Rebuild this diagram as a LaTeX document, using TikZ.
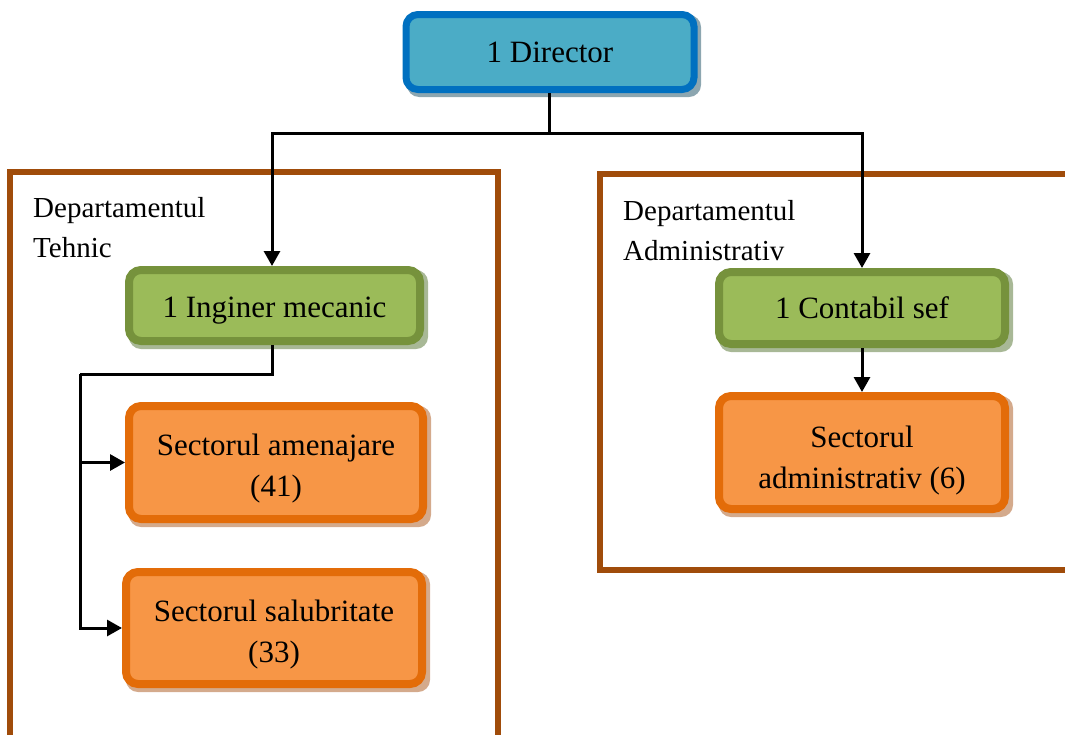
\documentclass[tikz,border=0pt]{standalone}
\usepackage{fontspec}
\setmainfont{Liberation Serif}
\usetikzlibrary{arrows.meta}
\definecolor{bluebd}{RGB}{0,112,192}
\definecolor{bluefl}{RGB}{75,172,198}
\definecolor{bluesh}{RGB}{140,166,176}
\definecolor{greenbd}{RGB}{118,146,60}
\definecolor{greenfl}{RGB}{155,187,89}
\definecolor{greensh}{RGB}{168,184,150}
\definecolor{orangebd}{RGB}{227,108,9}
\definecolor{orangefl}{RGB}{247,150,70}
\definecolor{orangesh}{RGB}{212,170,140}
\definecolor{frame}{RGB}{160,76,10}
\tikzset{
  box/.style={rounded corners=12pt, align=center, inner sep=0pt,
    font=\fontsize{31}{41}\selectfont},
  dirbox/.style={box, draw=bluebd, fill=bluefl, line width=7pt},
  greenbox/.style={box, draw=greenbd, fill=greenfl, line width=8pt},
  orangebox/.style={box, draw=orangebd, fill=orangefl, line width=8pt},
  deptframe/.style={draw=frame, line width=6pt},
  deptlabel/.style={align=left, inner sep=0pt, anchor=base west,
    font=\fontsize{29}{40}\selectfont},
  conn/.style={draw=black, line width=3pt},
  arr/.style={conn, -{Triangle[length=15pt,width=16pt]}},
}
\newcommand{\shadowbox}[5]{% x1 y1 x2 y2 color
  \fill[#5, rounded corners=12pt] (#1+4,#2+4) rectangle (#3+4,#4+4);}
\begin{document}
\begin{tikzpicture}[x=1pt,y=-1pt]
\useasboundingbox (0,0) rectangle (1065,734);
\clip (0,0) rectangle (1065,734);
% department frames
\draw[deptframe] (10,172) rectangle (498,760);
\draw[deptframe] (599.5,174) rectangle (1090,570);
\node[deptlabel] (lt) at (33,257) {Departamentul\\Tehnic};
\node[deptlabel] (la) at (623,260) {Departamentul\\Administrativ};
% shadows
\shadowbox{403}{11}{697}{93}{bluesh}
\shadowbox{125}{266}{424}{345}{greensh}
\shadowbox{715}{268}{1009}{348}{greensh}
\shadowbox{715}{392}{1009}{513}{orangesh}
\shadowbox{125}{402}{427}{523}{orangesh}
\shadowbox{122}{568}{426}{688}{orangesh}
% boxes
\node[dirbox, minimum width=288pt, minimum height=75pt] (dir) at (550,52) {1 Director};
\node[greenbox, minimum width=291pt, minimum height=71pt] (ing) at (274.5,305.5) {\rule{0pt}{30pt}1 Inginer mecanic};
\node[greenbox, minimum width=286pt, minimum height=72pt] (cont) at (862,308) {1 Contabil sef};
\node[orangebox, minimum width=286pt, minimum height=113pt] (adm) at (862,452.5) {\rule{0pt}{37pt}Sectorul\\administrativ (6)};
\node[orangebox, minimum width=294pt, minimum height=113pt] (am) at (276,462.5) {\rule{0pt}{33pt}Sectorul amenajare\\(41)};
\node[orangebox, minimum width=296pt, minimum height=112pt] (sal) at (274,628) {\rule{0pt}{35pt}Sectorul salubritate\\(33)};
% connectors
\coordinate (bus) at (549,133);
\coordinate (spine) at (80,374);
\draw[conn] ([xshift=-1pt]dir.south) -- (bus);
\draw[arr] (bus) -| ([xshift=-2.5pt]ing.north);
\draw[arr] (bus) -| (cont.north);
\draw[arr] (cont.south) -- (adm.north);
\draw[conn] ([xshift=-2.5pt]ing.south) |- (spine);
\draw[arr] (spine) |- (sal.west);
\draw[arr] (spine |- am.west) -- (am.west);
\end{tikzpicture}
\end{document}
